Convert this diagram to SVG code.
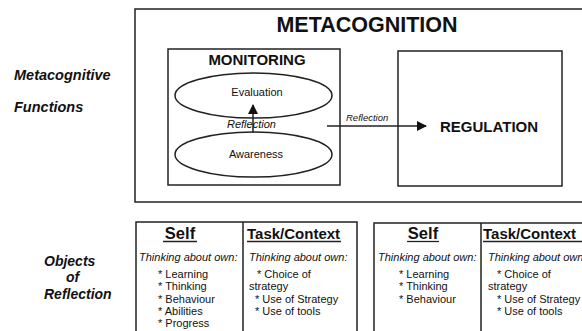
<svg xmlns="http://www.w3.org/2000/svg" width="582" height="331" viewBox="0 0 582 331">
<style>
text{font-family:"Liberation Sans",Arial,sans-serif;fill:#111}
.box{fill:none;stroke:#222;stroke-width:1.5}
.ln{stroke:#222;stroke-width:1.5;fill:none}
.b{font-weight:bold}
.i{font-style:italic}
.bi{font-weight:bold;font-style:italic;font-size:14px}
.s11{font-size:11px}
.mid{text-anchor:middle}
</style>
<defs>
<marker id="ah" viewBox="0 0 10 10" refX="9" refY="5" markerWidth="10" markerHeight="10" markerUnits="userSpaceOnUse" orient="auto">
<path d="M0,0 L10,5 L0,10 Z" fill="#111"/>
</marker>
</defs>
<rect width="582" height="331" fill="#fff"/>

<g id="side-labels">
<text class="bi" x="14" y="80" style="font-size:14.5px">Metacognitive</text>
<text class="bi" x="14" y="112" style="font-size:14.5px">Functions</text>
<text class="bi" x="44" y="266">Objects</text>
<text class="bi" x="66" y="282">of</text>
<text class="bi" x="44" y="299">Reflection</text>
</g>

<g id="metacognition">
<rect class="box" x="135" y="9" width="460" height="193"/>
<text class="b mid" x="367" y="32" style="font-size:21.5px">METACOGNITION</text>
</g>

<g id="monitoring">
<rect class="box" x="168" y="49" width="172" height="136"/>
<text class="b mid" x="257" y="65" style="font-size:15px">MONITORING</text>
</g>

<g id="evaluation">
<ellipse class="box" cx="253.5" cy="95.5" rx="78.5" ry="22.5"/>
<text class="mid s11" x="257" y="96">Evaluation</text>
</g>

<g id="awareness">
<ellipse class="box" cx="253.5" cy="154.5" rx="78.5" ry="22.5"/>
<text class="mid s11" x="256" y="158">Awareness</text>
</g>

<g id="regulation">
<rect class="box" x="398" y="51" width="164" height="135"/>
<text class="b" x="440" y="132" style="font-size:15px">REGULATION</text>
</g>

<g id="connectors">
<line class="ln" x1="253" y1="133" x2="253" y2="105" marker-end="url(#ah)"/>
<text class="i s11" x="227" y="128">Reflection</text>
<line class="ln" x1="327" y1="126" x2="426" y2="126" marker-end="url(#ah)"/>
<text class="i" x="346" y="121" style="font-size:9.5px">Reflection</text>
</g>

<g id="objects-1">
<path class="ln" d="M136,331 V222 H357 V331 M243,222 V331"/>
<text class="b mid" x="180" y="239" style="font-size:16.5px">Self</text>
<line class="ln" x1="163" y1="241.5" x2="197" y2="241.5" style="stroke-width:1.3"/>
<text class="b" x="247" y="239" style="font-size:15px">Task/Context</text>
<line class="ln" x1="247" y1="241.5" x2="341" y2="241.5" style="stroke-width:1.3"/>
<text class="i s11" x="139" y="261">Thinking about own:</text>
<text class="i s11" x="249" y="261">Thinking about own:</text>
<text class="s11" x="158" y="278">* Learning</text>
<text class="s11" x="158" y="290">* Thinking</text>
<text class="s11" x="158" y="302.5">* Behaviour</text>
<text class="s11" x="158" y="315">* Abilities</text>
<text class="s11" x="158" y="327">* Progress</text>
<text class="s11" x="257" y="278">* Choice of</text>
<text class="s11" x="249" y="290">strategy</text>
<text class="s11" x="255" y="302.5">* Use of Strategy</text>
<text class="s11" x="255" y="315">* Use of tools</text>
</g>

<g id="objects-2">
<path class="ln" d="M374,331 V223 H590 M481,223 V331"/>
<text class="b mid" x="423" y="239" style="font-size:16.5px">Self</text>
<line class="ln" x1="407" y1="241.5" x2="439" y2="241.5" style="stroke-width:1.3"/>
<text class="b" x="483" y="239" style="font-size:15px">Task/Context</text>
<line class="ln" x1="483" y1="241.5" x2="582" y2="241.5" style="stroke-width:1.3"/>
<text class="i s11" x="378" y="261">Thinking about own:</text>
<text class="i s11" x="488" y="261">Thinking about own:</text>
<text class="s11" x="399" y="278">* Learning</text>
<text class="s11" x="399" y="290">* Thinking</text>
<text class="s11" x="399" y="302.5">* Behaviour</text>
<text class="s11" x="497" y="278">* Choice of</text>
<text class="s11" x="488" y="290">strategy</text>
<text class="s11" x="497" y="302.5">* Use of Strategy</text>
<text class="s11" x="497" y="315">* Use of tools</text>
</g>
</svg>
